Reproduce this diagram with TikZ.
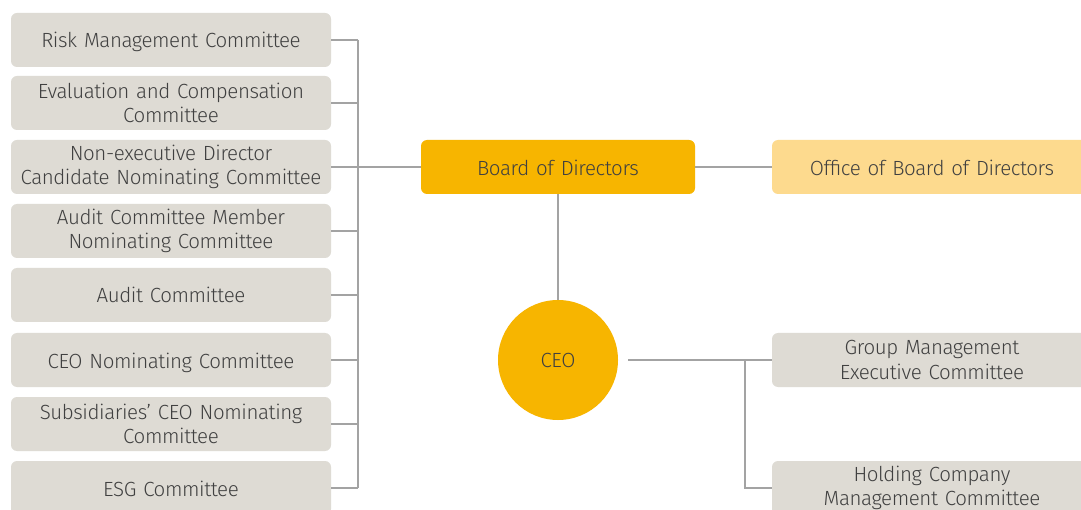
\documentclass[tikz,border=0pt]{standalone}
\usepackage{fontspec}
\setmainfont{Fira Sans}[UprightFont={* Light}, LetterSpace=-2.0]
\usetikzlibrary{calc}
\definecolor{boxgray}{HTML}{DEDBD4}
\definecolor{gold}{HTML}{F7B500}
\definecolor{lightgold}{HTML}{FDDA8E}
\definecolor{txt}{HTML}{404040}
\definecolor{linegray}{HTML}{A3A3A3}
\tikzset{
  cbox/.style={rectangle, rounded corners=6pt, fill=boxgray, minimum width=320pt, minimum height=54pt, text width=316pt, align=center, inner sep=0pt, text=txt, font=\fontsize{20.5}{24.5}\selectfont},
  oneline/.style={text height=20pt, text depth=4pt},
  conn/.style={draw=linegray, line width=1.4pt},
}
\begin{document}
\begin{tikzpicture}[x=1pt,y=-1pt]
\useasboundingbox (0,0) rectangle (1081,510);
\clip (0,0) rectangle (1081,510);
\fill[white] (0,0) rectangle (1081,510);
% left committees
\node[cbox, oneline] (r1) at (171,40) {Risk Management Committee};
\node[cbox] (r2) at (171,103) {Evaluation and Compensation\\Committee};
\node[cbox] (r3) at (171,167) {Non-executive Director\\Candidate Nominating Committee};
\node[cbox] (r4) at (171,231) {Audit Committee Member\\Nominating Committee};
\node[cbox, oneline] (r5) at (171,295) {Audit Committee};
\node[cbox, oneline] (r6) at (171,360) {CEO Nominating Committee};
\node[cbox] (r7) at (171,424) {Subsidiaries’ CEO Nominating\\Committee};
\node[cbox, oneline] (r8) at (171,488) {ESG Committee};
% board
\node[cbox, oneline, text height=22pt, fill=gold, minimum width=274pt, text width=270pt] (board) at (558,167) {Board of Directors};
\node[cbox, oneline, text height=22pt, fill=lightgold] (office) at (932,167) {Office of Board of Directors};
% CEO
\node[circle, fill=gold, minimum size=120pt, inner sep=0pt, text=txt, font=\fontsize{20.5}{24.5}\selectfont] (ceo) at (558,360) {CEO};
\node[cbox] (gm) at (932,360) {Group Management\\Executive Committee};
\node[cbox] (hc) at (932,488) {Holding Company\\Management Committee};
% connectors
\coordinate (busx) at (358,0);
\coordinate (brx) at (745,0);
\foreach \n in {r1,r2,r4,r5,r6,r7,r8}{
  \draw[conn] (\n.east) -- (\n.east -| busx);
}
\draw[conn] (r1.east -| busx) -- (r8.east -| busx);
\draw[conn] (r3.east) -- (board.west);
\draw[conn] (board.east) -- (office.west);
\draw[conn] (board.south) -- (ceo.north);
\draw[conn, shorten <=10pt] (ceo.east) -- (gm.west);
\draw[conn] (gm.west -| brx) |- (hc.west);
\end{tikzpicture}
\end{document}
